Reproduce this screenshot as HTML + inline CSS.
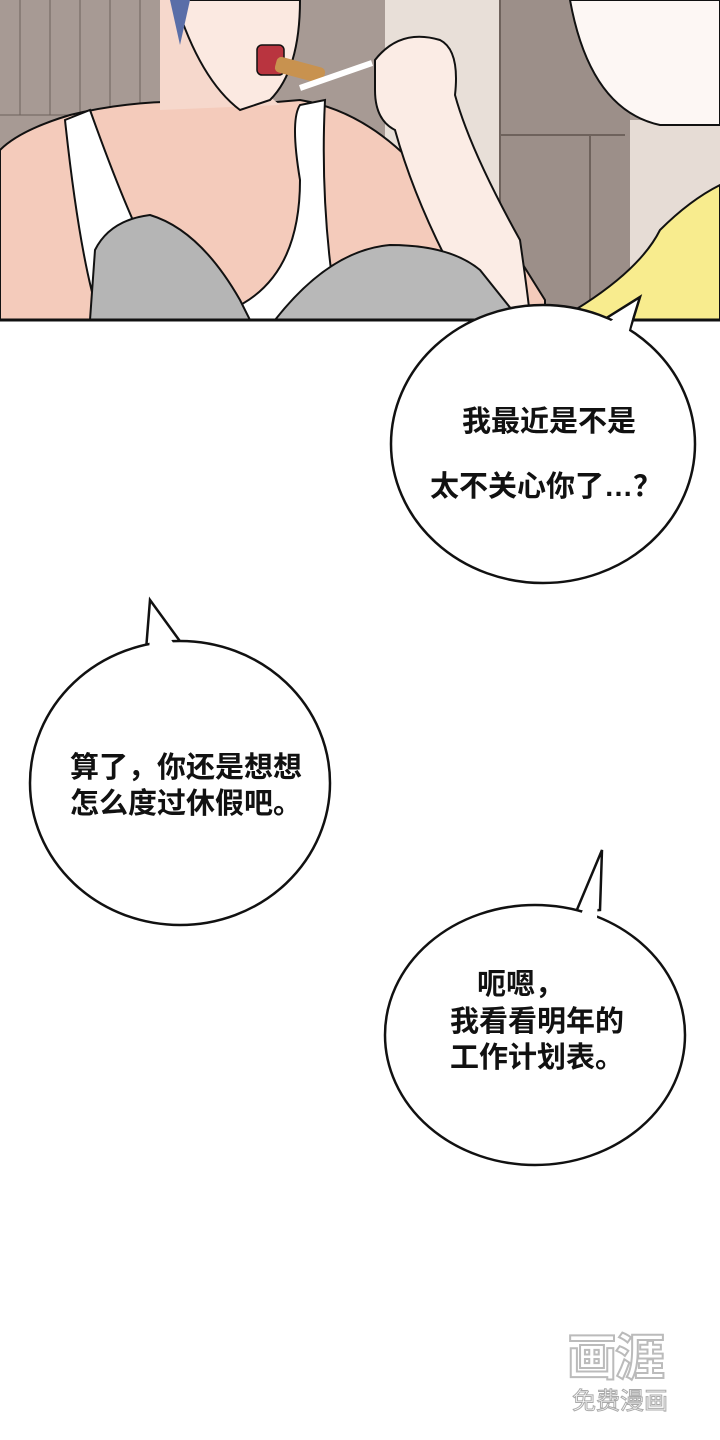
<!DOCTYPE html>
<html><head><meta charset="utf-8"><style>
html,body{margin:0;padding:0;background:#fff}
body{width:720px;height:1440px;position:relative;overflow:hidden;font-family:"Liberation Sans","Noto Sans CJK SC",sans-serif}
.t{position:absolute;font-size:29px;font-weight:bold;color:#111;line-height:36px;white-space:nowrap}
</style></head><body>
<svg width="720" height="1440" style="position:absolute;left:0;top:0">
<rect x="0" y="0" width="720" height="320" fill="#a79a94"/>
<g stroke="#6e625c" stroke-width="1">
<line x1="20" y1="0" x2="20" y2="115"/><line x1="50" y1="0" x2="50" y2="115"/><line x1="80" y1="0" x2="80" y2="115"/><line x1="110" y1="0" x2="110" y2="115"/><line x1="140" y1="0" x2="140" y2="115"/>
<line x1="0" y1="115" x2="180" y2="115"/>
</g>
<rect x="385" y="0" width="115" height="320" fill="#e8dfd8"/>
<rect x="500" y="0" width="130" height="320" fill="#9c8f89"/>
<g stroke="#6e625c" stroke-width="2" fill="none">
<line x1="500" y1="135" x2="625" y2="135"/><line x1="500" y1="320" x2="500" y2="0"/>
<line x1="590" y1="135" x2="590" y2="320"/>
</g>
<rect x="630" y="120" width="90" height="200" fill="#e6dcd5"/>
<path d="M570 0 Q590 110 660 125 L720 125 L720 0Z" fill="#fdf7f4" stroke="#111" stroke-width="2"/>
<path d="M575 310 Q640 270 660 230 Q690 200 720 185 L720 320 L570 320Z" fill="#f8ec8e" stroke="#111" stroke-width="2"/>
<path d="M0 150 Q20 130 70 115 Q150 95 240 105 L300 100 Q360 110 410 160 Q470 230 520 260 L545 300 L545 320 L0 320Z" fill="#f4cbbb" stroke="#111" stroke-width="2"/>
<path d="M160 0 L200 0 L250 80 L280 105 L160 110Z" fill="#f6d8cc"/>
<path d="M240 0 L300 0 Q300 70 270 100 L240 110 Q200 80 175 0Z" fill="#fbe9e1" stroke="#111" stroke-width="2"/>
<path d="M170 0 L190 0 L180 45Z" fill="#5a6ea8"/>
<rect x="257" y="45" width="27" height="30" rx="5" fill="#b9343f" stroke="#111" stroke-width="1.5"/>
<rect x="275" y="62" width="50" height="16" rx="5" fill="#c8924f" transform="rotate(15 300 70)"/>
<path d="M300 88 L372 63" stroke="#fff" stroke-width="6"/>
<path d="M375 60 Q400 28 440 40 Q460 50 455 95 Q470 150 520 240 Q530 310 530 320 L480 320 Q420 220 395 130 Q375 120 375 90Z" fill="#fbece5" stroke="#111" stroke-width="2"/>
<path d="M65 120 L90 110 Q140 250 170 290 L230 310 Q300 280 300 180 Q290 120 300 105 L325 100 Q320 200 335 300 L320 320 L100 320 Q80 260 65 120Z" fill="#fff" stroke="#111" stroke-width="2"/>
<path d="M90 320 L95 250 Q110 220 150 215 Q200 230 240 300 L250 320Z" fill="#b5b5b5" stroke="#111" stroke-width="2"/>
<path d="M275 320 Q330 250 390 245 Q450 245 480 270 L520 320Z" fill="#b8b8b8" stroke="#111" stroke-width="2"/>
<line x1="0" y1="320" x2="720" y2="320" stroke="#111" stroke-width="3"/>
<rect x="0" y="322" width="720" height="1118" fill="#fff"/>
<g fill="#fff" stroke="#111" stroke-width="2.5">
<polygon points="600,322 640,297 628,336"/>
<ellipse cx="543" cy="444" rx="152" ry="139"/>
<polygon points="146,650 150,600 182,644"/>
<ellipse cx="180" cy="783" rx="150" ry="142"/>
<polygon points="576,912 602,850 600,910"/>
<ellipse cx="535" cy="1035" rx="150" ry="130"/>
</g>
<g fill="#fff">
<polygon points="604,326 636,303 626,342 600,340"/>
<polygon points="149,655 151,610 178,650"/>
<polygon points="580,918 600,860 597,918"/>
</g>
</svg>
<div class="t" style="left:462px;top:404px">我最近是不是</div>
<div class="t" style="left:430px;top:469px">太不关心你了…？</div>
<div class="t" style="left:70px;top:750px">算了，你还是想想</div>
<div class="t" style="left:70px;top:786px">怎么度过休假吧。</div>
<div class="t" style="left:477px;top:967px">呃嗯，</div>
<div class="t" style="left:450px;top:1004px">我看看明年的</div>
<div class="t" style="left:450px;top:1040px">工作计划表。</div>
<div style="position:absolute;left:567px;top:1318px;font-size:50px;font-weight:bold;color:#fff;-webkit-text-stroke:2px #bbb;letter-spacing:-2px">画涯</div>
<div style="position:absolute;left:572px;top:1381px;font-size:24px;color:#fff;-webkit-text-stroke:1px #aaa">免费漫画</div>
</body></html>
